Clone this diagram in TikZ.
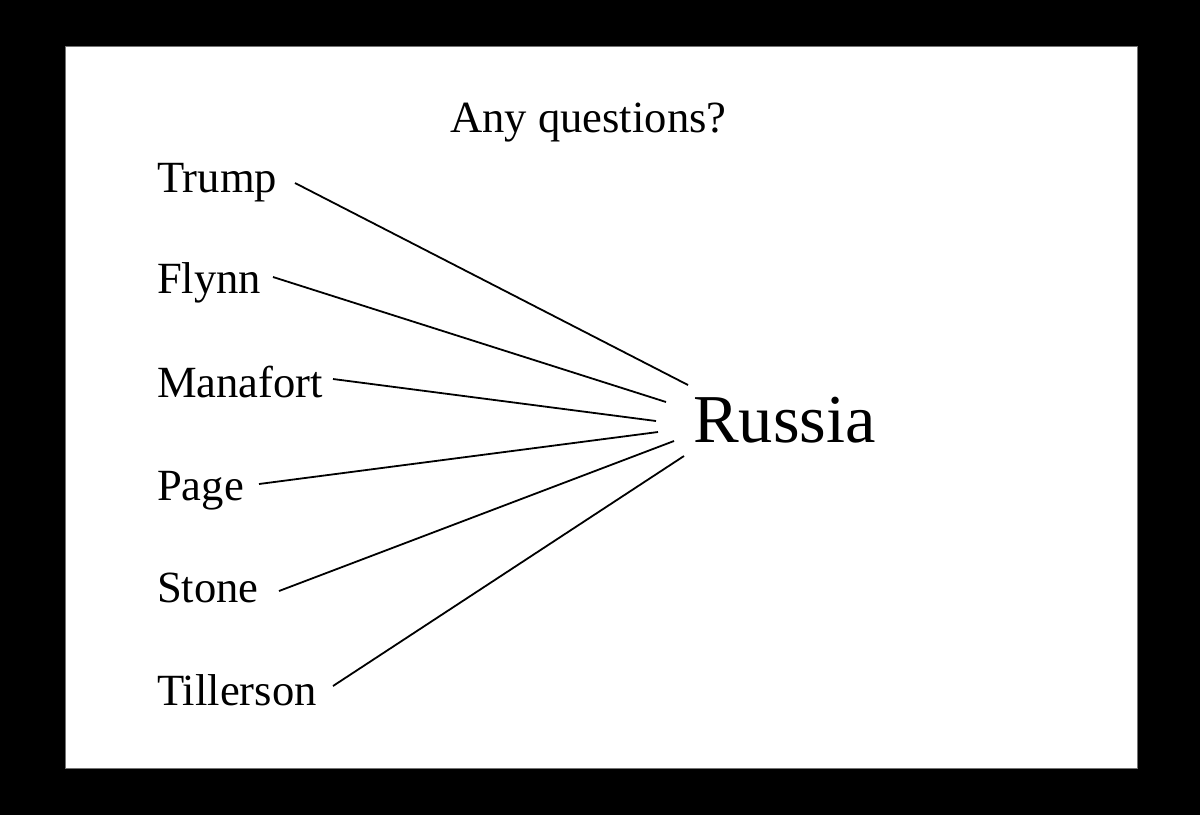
\documentclass[tikz,border=0pt]{standalone}
\usepackage{fontspec}
\setmainfont{Liberation Serif}
\begin{document}
\begin{tikzpicture}[x=1pt,y=-1pt,
  person/.style={anchor=base west,inner sep=0pt,font=\fontsize{44.6}{44.6}\selectfont},
  link/.style={line width=1.8pt,black}]
\useasboundingbox (0,0) rectangle (1200,815);
\fill[black] (0,0) rectangle (1200,815);
\filldraw[fill=white,draw=black!55,line width=0.8pt] (65,46) rectangle (1137,768);
\node[person] (title) at (450,132) {Any questions?};
\node[person] (trump) at (157,192) {Trump};
\node[person] (flynn) at (157,293) {Flynn};
\node[person] (manafort) at (157,397) {Manafort};
\node[person] (page) at (157,500) {Page};
\node[person] (stone) at (157,602) {Stone};
\node[person] (tillerson) at (157,705) {Tillerson};
\node[anchor=base west,inner sep=0pt,font=\fontsize{68.5}{68.5}\selectfont] (russia) at (693,442) {Russia};
\coordinate (a1) at (295,183); \coordinate (b1) at (688,385);
\coordinate (a2) at (273,277); \coordinate (b2) at (666,402);
\coordinate (a3) at (333,379); \coordinate (b3) at (656,421);
\coordinate (a4) at (259,484); \coordinate (b4) at (658,432);
\coordinate (a5) at (279,591); \coordinate (b5) at (674,441);
\coordinate (a6) at (333,686); \coordinate (b6) at (684,456);
\foreach \i in {1,...,6} {\draw[link] (a\i) -- (b\i);}
\end{tikzpicture}
\end{document}
